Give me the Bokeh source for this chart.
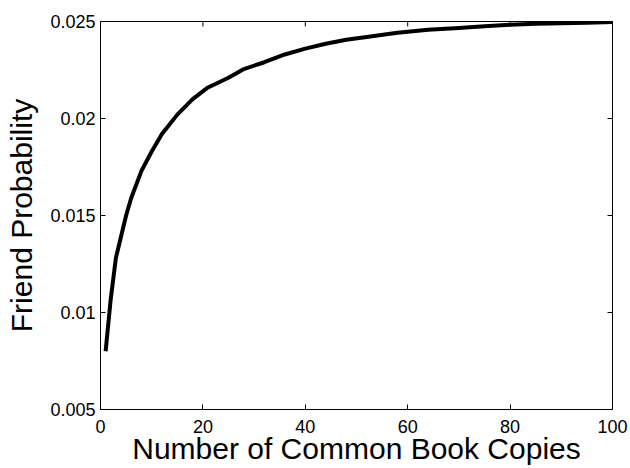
import math
from bokeh.plotting import figure
from bokeh.models import FixedTicker, Range1d
from bokeh.embed import file_html
from bokeh.resources import INLINE

# Data
common_copies = [1, 2, 3, 4, 5, 6, 8, 10, 12, 15, 18, 21, 25, 28, 32, 36, 40,
                 44, 48, 52, 58, 64, 70, 75, 80, 85, 90, 95, 100]
friend_prob = [0.0080, 0.0107, 0.0128, 0.0139, 0.0150, 0.0159, 0.0173, 0.0183,
               0.0192, 0.0202, 0.0210, 0.0216, 0.0221, 0.02255, 0.0229, 0.0233,
               0.0236, 0.02385, 0.02406, 0.0242, 0.02442, 0.02458, 0.02467,
               0.02475, 0.02483, 0.02488, 0.02491, 0.02494, 0.02497]

x_ticks = [0, 20, 40, 60, 80, 100]
y_ticks = [0.005, 0.01, 0.015, 0.02, 0.025]
y_tick_labels = ["0.005", "0.01", "0.015", "0.02", "0.025"]
x_tick_labels = ["0", "20", "40", "60", "80", "100"]

x_min, x_max = 0, 100
y_min, y_max = 0.005, 0.025

FONT = "Liberation Sans"

p = figure(width=630, height=468, output_backend="svg", toolbar_location=None,
           x_range=Range1d(x_min, x_max), y_range=Range1d(y_min, y_max),
           min_border_left=100, min_border_right=18, min_border_top=21,
           min_border_bottom=59,
           x_axis_label="Number of Common Book Copies",
           y_axis_label="Friend Probability")
p.grid.visible = False
p.outline_line_color = "black"
p.outline_line_width = 1
p.background_fill_color = "white"
p.border_fill_color = "white"

def style_axis(ax, ticks, labels):
    ax.ticker = FixedTicker(ticks=ticks)
    ax.major_label_overrides = {t: l for t, l in zip(ticks, labels)}
    ax.major_tick_in = 5
    ax.major_tick_out = 0
    ax.minor_tick_in = 0
    ax.minor_tick_out = 0
    ax.axis_line_color = "black"
    ax.major_tick_line_color = "black"
    ax.major_label_text_font = FONT
    ax.major_label_text_font_size = "18px"
    ax.major_label_text_color = "black"
    ax.axis_label_text_font = FONT
    ax.axis_label_text_font_style = "normal"
    ax.axis_label_text_color = "black"
    ax.axis_label_text_font_size = "30px"

xa = p.xaxis[0]
style_axis(xa, x_ticks, x_tick_labels)
xa.major_label_standoff = 10
xa.axis_label_standoff = -4

ya = p.yaxis[0]
style_axis(ya, y_ticks, y_tick_labels)
ya.major_label_standoff = 5
ya.axis_label_standoff = 9

# inward tick marks on the top and right edges of the box (clipped to frame)
p.scatter(x_ticks, [y_max] * len(x_ticks), marker="dash", size=10,
          angle=math.pi / 2, line_color="black", line_width=1)
p.scatter([x_max] * len(y_ticks), y_ticks, marker="dash", size=10,
          line_color="black", line_width=1)

p.line(common_copies, friend_prob, line_color="black", line_width=4,
       line_join="round")

open("out.html", "w").write(file_html(p, INLINE))
